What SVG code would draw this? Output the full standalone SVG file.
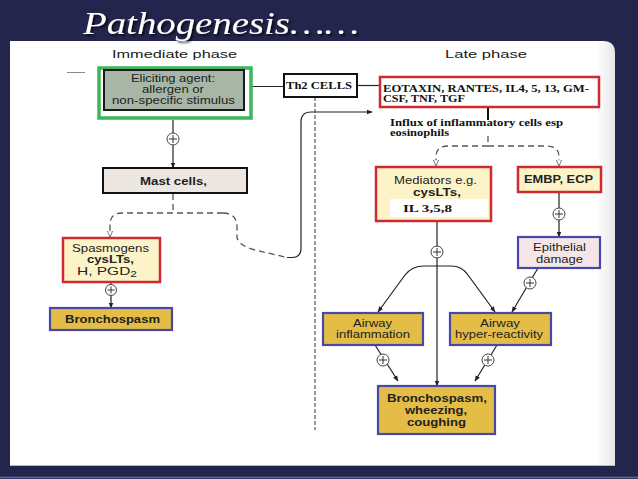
<svg xmlns="http://www.w3.org/2000/svg" width="638" height="479" viewBox="0 0 638 479">
<style>
.sans{font-family:"Liberation Sans",Arial,sans-serif;fill:#222;font-size:11px}
.b{font-weight:bold}
.ser{font-family:"Liberation Serif","Times New Roman",serif;font-weight:bold;fill:#111;font-size:10.5px}
.ln{stroke:#222;stroke-width:1.2;fill:none}
.dash{stroke:#555;stroke-width:1.3;fill:none;stroke-dasharray:6,4}
.red{fill:#fcf4c8;stroke:#cf2a32;stroke-width:2.5}
.gold{fill:#e3bd45;stroke:#4848aa;stroke-width:2.2}
.plus circle{fill:#fff;stroke:#444;stroke-width:1}
.plus path{stroke:#333;stroke-width:1}
</style>
<defs>
<marker id="ah" viewBox="0 0 10 10" refX="9" refY="5" markerWidth="6" markerHeight="6" orient="auto" markerUnits="userSpaceOnUse">
<path d="M0,1 L10,5 L0,9 Z" fill="#222"/>
</marker>
<marker id="oa" viewBox="0 0 10 10" refX="9" refY="5" markerWidth="7" markerHeight="7" orient="auto" markerUnits="userSpaceOnUse">
<path d="M0,1 L9,5 L0,9 Z" fill="#fff" stroke="#666" stroke-width="1.2"/>
</marker>
<linearGradient id="edge" x1="0" y1="0" x2="1" y2="0">
<stop offset="0" stop-color="#fff"/>
<stop offset="0.97" stop-color="#fff"/>
<stop offset="1" stop-color="#e6e6e8"/>
</linearGradient>
<filter id="sh" x="-5%" y="-20%" width="110%" height="150%">
<feDropShadow dx="2" dy="2" stdDeviation="0.8" flood-color="#000" flood-opacity="0.7"/>
</filter>
</defs>
<rect width="638" height="479" fill="#24254d"/>
<line x1="0" y1="477.5" x2="638" y2="477.5" stroke="#6a6890" stroke-width="1.5"/>
<path d="M10 41 L603 41 Q615 41 615 53 L615 465 L10 465 Z" fill="url(#edge)"/>
<line x1="10" y1="465.5" x2="615" y2="465.5" stroke="#b8b6c8" stroke-width="1"/>
<text x="83" y="34" font-family="'Liberation Serif',serif" font-style="italic" font-size="32" fill="#fff" filter="url(#sh)" textLength="276" lengthAdjust="spacingAndGlyphs">Pathogenesis……</text>
<text class="sans" x="112" y="58" font-size="13" fill="#333" textLength="125" lengthAdjust="spacingAndGlyphs">Immediate phase</text>
<text class="sans" x="445" y="58" font-size="13" fill="#333" textLength="82" lengthAdjust="spacingAndGlyphs">Late phase</text>
<line x1="67" y1="72.5" x2="85" y2="72.5" stroke="#888" stroke-width="1"/>

<g id="connectors">
<line class="ln" x1="245" y1="86.5" x2="284" y2="86.5"/>
<line class="ln" x1="357" y1="85.5" x2="380" y2="85.5"/>
<line class="ln" x1="173" y1="120" x2="173" y2="168" marker-end="url(#ah)"/>
<path class="dash" d="M173 194 L173 213"/>
<path class="dash" d="M223 213 L122 213 Q110 213 110 225 L110 237" marker-end="url(#oa)"/>
<path class="dash" d="M223 213 Q237 213 237 227 L237 238 Q240 246 255 250 L287 257.5"/>
<path class="ln" d="M287 257.5 L292 257.5 Q301 257.5 301 248 L301 122 Q301 112 311 112 L372 112" marker-end="url(#ah)"/>
<line x1="315" y1="97" x2="315" y2="430" stroke="#333" stroke-width="1" stroke-dasharray="4,2"/>
<line x1="111" y1="282" x2="111" y2="308" class="ln" marker-end="url(#ah)"/>
<line x1="488" y1="107" x2="488" y2="120" stroke="#111" stroke-width="2"/>
<path class="dash" d="M488 136 L488 146"/>
<path class="dash" d="M488 146 L448 146 Q436 146 436 157 L436 166" marker-end="url(#oa)"/>
<path class="dash" d="M488 146 L547 146 Q559 146 559 157 L559 166" marker-end="url(#oa)"/>
<line class="ln" x1="559" y1="192" x2="559" y2="237" marker-end="url(#ah)"/>
<line class="ln" x1="538" y1="268" x2="512" y2="312" marker-end="url(#ah)"/>
<line class="ln" x1="437" y1="221" x2="437" y2="386" marker-end="url(#ah)"/>
<path class="ln" d="M437 266 L424 266 Q412 266 405 275 L378 312" marker-end="url(#ah)"/>
<path class="ln" d="M437 266 L451 266 Q462 266 468 275 L495 312" marker-end="url(#ah)"/>
<line class="ln" x1="375" y1="345" x2="398" y2="381" marker-end="url(#ah)"/>
<line class="ln" x1="497" y1="345" x2="475" y2="381" marker-end="url(#ah)"/>
<g class="plus">
<circle cx="173" cy="139" r="6"/><path d="M169 139 H177 M173 135 V143"/>
<circle cx="111" cy="290" r="5.5"/><path d="M107.5 290 H114.5 M111 286.5 V293.5"/>
<circle cx="559" cy="214" r="6"/><path d="M555 214 H563 M559 210 V218"/>
<circle cx="530" cy="283" r="6"/><path d="M526 283 H534 M530 279 V287"/>
<circle cx="437" cy="252" r="6"/><path d="M433 252 H441 M437 248 V256"/>
<circle cx="383" cy="360" r="6"/><path d="M379 360 H387 M383 356 V364"/>
<circle cx="488" cy="360" r="6"/><path d="M484 360 H492 M488 356 V364"/>
</g>
</g>

<g id="eliciting">
<rect x="99" y="68" width="152" height="50" fill="#fff" stroke="#3db55a" stroke-width="3.5"/>
<rect x="104" y="70" width="140" height="40" fill="#a7b6a6" stroke="#1a1a1a" stroke-width="2"/>
<text class="sans" x="131" y="82" textLength="84" lengthAdjust="spacingAndGlyphs">Eliciting agent:</text>
<text class="sans" x="142" y="93" textLength="62" lengthAdjust="spacingAndGlyphs">allergen or</text>
<text class="sans" x="112" y="104" textLength="123" lengthAdjust="spacingAndGlyphs">non-specific stimulus</text>
</g>
<g id="th2">
<rect x="284" y="74" width="73" height="23" fill="#fff" stroke="#111" stroke-width="2"/>
<text class="ser" x="286" y="89" textLength="66" lengthAdjust="spacingAndGlyphs">Th2 CELLS</text>
</g>
<g id="eotaxin">
<rect x="380" y="77" width="219" height="30" fill="#fff" stroke="#cf2a32" stroke-width="2.5"/>
<text class="ser" x="383" y="92" textLength="206" lengthAdjust="spacingAndGlyphs">EOTAXIN, RANTES, IL4, 5, 13, GM-</text>
<text class="ser" x="383" y="102" textLength="82" lengthAdjust="spacingAndGlyphs">CSF, TNF, TGF</text>
</g>
<g id="influx">
<text class="ser" x="390" y="126" font-size="9.5" textLength="173" lengthAdjust="spacingAndGlyphs">Influx of inflammatory cells esp</text>
<text class="ser" x="390" y="135.5" font-size="9.5" textLength="59" lengthAdjust="spacingAndGlyphs">eosinophils</text>
</g>
<g id="mast">
<rect x="103" y="168" width="144" height="25" fill="#ede7e3" stroke="#111" stroke-width="2"/>
<text class="sans b" x="140" y="185" font-size="12" textLength="67" lengthAdjust="spacingAndGlyphs">Mast cells,</text>
</g>
<g id="spasmogens">
<rect class="red" x="63" y="238" width="97" height="44"/>
<text class="sans" x="72" y="252" textLength="77" lengthAdjust="spacingAndGlyphs">Spasmogens</text>
<text class="sans b" x="87" y="263" textLength="47" lengthAdjust="spacingAndGlyphs">cysLTs,</text>
<text class="sans" x="77" y="275" textLength="60" lengthAdjust="spacingAndGlyphs">H, PGD<tspan font-size="8.5" dy="2">2</tspan></text>
</g>
<g id="bronchospasm1">
<rect class="gold" x="50" y="308" width="122" height="22"/>
<text class="sans b" x="65" y="323" textLength="95" lengthAdjust="spacingAndGlyphs">Bronchospasm</text>
</g>
<g id="mediators">
<rect class="red" x="376" y="167" width="115" height="54"/>
<text class="sans" x="394" y="184" textLength="83" lengthAdjust="spacingAndGlyphs">Mediators e.g.</text>
<text class="sans b" x="413" y="196" textLength="48" lengthAdjust="spacingAndGlyphs">cysLTs,</text>
<rect x="390" y="199" width="98" height="18" fill="#fff"/>
<text class="ser" x="403" y="212" textLength="49" lengthAdjust="spacingAndGlyphs">IL 3,5,8</text>
</g>
<g id="embp">
<rect class="red" x="518" y="167" width="83" height="25"/>
<text class="sans b" x="524" y="183" textLength="69" lengthAdjust="spacingAndGlyphs">EMBP, ECP</text>
</g>
<g id="epithelial">
<rect x="518" y="237" width="82" height="31" fill="#f4e6e8" stroke="#4848aa" stroke-width="2.2"/>
<text class="sans" x="533" y="251" textLength="53" lengthAdjust="spacingAndGlyphs">Epithelial</text>
<text class="sans" x="536" y="263" textLength="47" lengthAdjust="spacingAndGlyphs">damage</text>
</g>
<g id="inflammation">
<rect class="gold" x="323" y="313" width="100" height="32"/>
<text class="sans" x="353" y="327" textLength="39" lengthAdjust="spacingAndGlyphs">Airway</text>
<text class="sans" x="336" y="338" textLength="74" lengthAdjust="spacingAndGlyphs">inflammation</text>
</g>
<g id="hyperreactivity">
<rect class="gold" x="450" y="313" width="101" height="32"/>
<text class="sans" x="480" y="327" textLength="40" lengthAdjust="spacingAndGlyphs">Airway</text>
<text class="sans" x="455" y="338" textLength="88" lengthAdjust="spacingAndGlyphs">hyper-reactivity</text>
</g>
<g id="bronchospasm2">
<rect class="gold" x="378" y="386" width="117" height="48"/>
<text class="sans b" x="387" y="402" textLength="100" lengthAdjust="spacingAndGlyphs">Bronchospasm,</text>
<text class="sans b" x="405" y="414" textLength="62" lengthAdjust="spacingAndGlyphs">wheezing,</text>
<text class="sans b" x="407" y="426" textLength="59" lengthAdjust="spacingAndGlyphs">coughing</text>
</g>
</svg>
